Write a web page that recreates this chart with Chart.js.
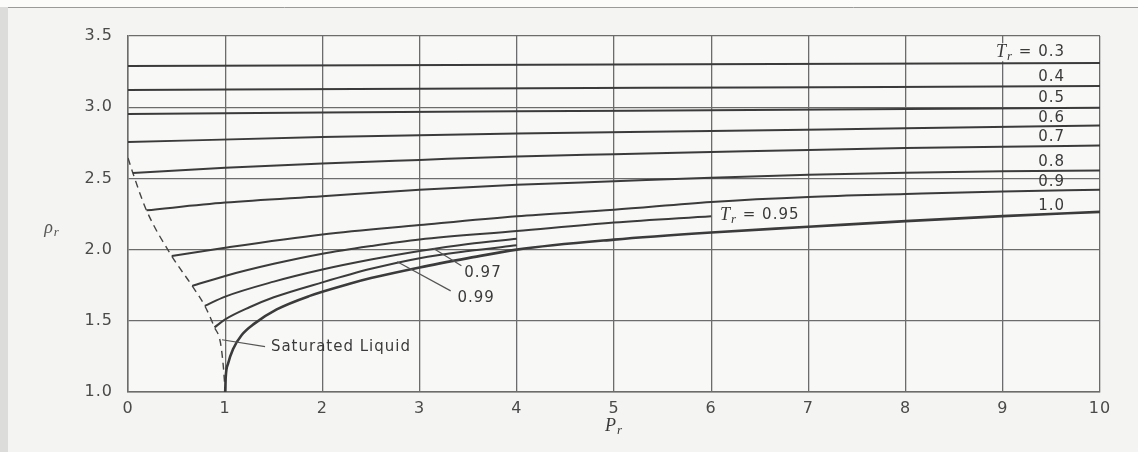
<!DOCTYPE html>
<html>
<head>
<meta charset="utf-8">
<script src="https://cdn.jsdelivr.net/npm/chart.js@4/dist/chart.umd.min.js"></script>
<style>
  html, body { margin: 0; padding: 0; background: #f4f4f2; }
  canvas { display: block; }
</style>
</head>
<body>
<canvas id="myChart" width="1138" height="452"></canvas>
<script>
// reduced pressure (Pr) / reduced density (rho_r) per isotherm
const tr03Pr = [0, 5, 10];
const tr03Rho = [3.29, 3.30, 3.31];
const tr04Pr = [0, 3, 6.4, 10];
const tr04Rho = [3.12, 3.13, 3.139, 3.148];
const tr05Pr = [0, 2, 4, 6.4, 10];
const tr05Rho = [2.952, 2.963, 2.972, 2.98, 2.997];
const tr06Pr = [0, 2, 4, 6, 8, 10];
const tr06Rho = [2.755, 2.79, 2.815, 2.832, 2.852, 2.871];
const tr07Pr = [0.05, 1, 2, 3, 4, 5, 6, 7, 8, 9, 10];
const tr07Rho = [2.538, 2.575, 2.605, 2.63, 2.654, 2.67, 2.685, 2.70, 2.713, 2.723, 2.731];
const tr08Pr = [0.19, 1, 2, 3, 4, 5, 6, 7, 8, 9, 10];
const tr08Rho = [2.276, 2.33, 2.375, 2.42, 2.455, 2.48, 2.505, 2.525, 2.54, 2.55, 2.556];
const tr09Pr = [0.45, 1, 2, 3, 4, 5, 6, 7, 8, 9, 10];
const tr09Rho = [1.955, 2.013, 2.106, 2.172, 2.234, 2.28, 2.335, 2.37, 2.39, 2.408, 2.42];
const tr095Pr = [0.66, 1, 1.5, 2, 2.5, 3, 4, 5, 6];
const tr095Rho = [1.745, 1.815, 1.90, 1.971, 2.025, 2.071, 2.13, 2.19, 2.235];
const tr097Pr = [0.79, 1, 1.5, 2, 2.5, 3, 3.5, 4];
const tr097Rho = [1.605, 1.67, 1.775, 1.86, 1.93, 1.99, 2.04, 2.076];
const tr099Pr = [0.89, 1, 1.25, 1.5, 2, 2.5, 3, 3.5, 4];
const tr099Rho = [1.454, 1.51, 1.595, 1.665, 1.77, 1.865, 1.94, 1.99, 2.03];
const tr10Pr = [1, 1.005, 1.03, 1.08, 1.17, 1.3, 1.53, 1.87, 2.28, 2.5, 3, 3.5, 4, 5, 6, 7, 8, 9, 10];
const tr10Rho = [1.0, 1.1, 1.2, 1.3, 1.4, 1.48, 1.58, 1.675, 1.76, 1.80, 1.875, 1.94, 2.0, 2.07, 2.12, 2.16, 2.2, 2.235, 2.265];
const satPr = [0, 0.05, 0.19, 0.45, 0.66, 0.79, 0.89, 0.95, 0.98, 1.0];
const satRho = [2.643, 2.538, 2.276, 1.955, 1.745, 1.605, 1.454, 1.35, 1.185, 1.0];

const xTicks = [0, 1, 2, 3, 4, 5, 6, 7, 8, 9, 10];
const yTicks = [1.0, 1.5, 2.0, 2.5, 3.0, 3.5];

// right side isotherm labels: text, and rho where they sit
const rightLabels = ['0.3', '0.4', '0.5', '0.6', '0.7', '0.8', '0.9', '1.0'];
const rightLabelRho = [3.386, 3.21, 3.064, 2.924, 2.79, 2.615, 2.475, 2.307];

const pts = (xs, ys) => xs.map((x, i) => ({ x: x, y: ys[i] }));
const ink = '#3b3b3b';
const sans = '"DejaVu Sans"';

const isoLine = (label, xs, ys, w) => ({
    label: label,
    data: pts(xs, ys),
    borderColor: ink,
    borderWidth: w || 2,
    pointRadius: 0,
    fill: false,
    cubicInterpolationMode: 'monotone',
});

const data = {
    datasets: [
        isoLine('0.3', tr03Pr, tr03Rho),
        isoLine('0.4', tr04Pr, tr04Rho),
        isoLine('0.5', tr05Pr, tr05Rho),
        isoLine('0.6', tr06Pr, tr06Rho),
        isoLine('0.7', tr07Pr, tr07Rho),
        isoLine('0.8', tr08Pr, tr08Rho),
        isoLine('0.9', tr09Pr, tr09Rho),
        isoLine('0.95', tr095Pr, tr095Rho),
        isoLine('0.97', tr097Pr, tr097Rho),
        isoLine('0.99', tr099Pr, tr099Rho),
        isoLine('1.0', tr10Pr, tr10Rho, 2.6),
        {
            label: 'Saturated Liquid',
            data: pts(satPr, satRho),
            borderColor: '#444',
            borderWidth: 1.4,
            borderDash: [7, 5],
            pointRadius: 0,
            fill: false,
            cubicInterpolationMode: 'monotone',
        },
    ],
};

// draws T_r / rho_r / P_r style text with an italic subscript
function subText(ctx, x, y, main, sub, rest, size, align) {
    const mainFont = 'italic ' + size + 'px "Liberation Serif"';
    const subFont = 'italic ' + Math.round(size * 0.7) + 'px "Liberation Serif"';
    const restFont = '15px ' + sans;
    ctx.font = mainFont; const w1 = ctx.measureText(main).width;
    ctx.font = subFont; const w2 = ctx.measureText(sub).width;
    ctx.font = restFont; const w3 = rest ? ctx.measureText(rest).width : 0;
    let left = x;
    if (align === 'right') left = x - (w1 + w2 + w3);
    if (align === 'center') left = x - (w1 + w2 + w3) / 2;
    ctx.textAlign = 'left';
    ctx.textBaseline = 'middle';
    ctx.font = mainFont; ctx.fillText(main, left, y);
    ctx.font = subFont; ctx.fillText(sub, left + w1, y + size * 0.25);
    if (rest) { ctx.font = restFont; ctx.fillText(rest, left + w1 + w2, y); }
    return { left: left, width: w1 + w2 + w3 };
}

const labelsPlugin = {
    id: 'labels',
    beforeDraw(chart) {
        const ctx = chart.ctx;
        ctx.save();
        ctx.fillStyle = '#f4f4f2';
        ctx.fillRect(0, 0, chart.width, chart.height);
        ctx.fillStyle = '#fbfbfa';
        ctx.fillRect(0, 0, chart.width, 7);
        ctx.strokeStyle = '#9a9a9a';
        ctx.lineWidth = 1;
        ctx.beginPath(); ctx.moveTo(0, 7.5); ctx.lineTo(chart.width, 7.5); ctx.stroke();
        ctx.fillStyle = '#dcdcda';
        ctx.fillRect(0, 7, 8, chart.height);
        const a = chart.chartArea;
        ctx.fillStyle = '#f8f8f7';
        ctx.fillRect(a.left, a.top, a.right - a.left, a.bottom - a.top);
        ctx.restore();
        ctx.letterSpacing = '1px';
    },
    afterDatasetsDraw(chart) {
        const ctx = chart.ctx;
        const sx = chart.scales.x, sy = chart.scales.y;
        const X = v => sx.getPixelForValue(v), Y = v => sy.getPixelForValue(v);
        ctx.save();
        ctx.fillStyle = '#3a3a3a';
        ctx.strokeStyle = '#555';

        // right side labels
        rightLabels.forEach((t, i) => {
            const y = Y(rightLabelRho[i]);
            if (i === 0) {
                const r = subText(ctx, X(9.64), y, 'T', 'r', ' = ' + t, 18, 'right');
                ctx.fillStyle = '#f8f8f7';
                ctx.fillRect(r.left - 2, y - 9, r.width + 4, 18);
                ctx.fillStyle = '#3a3a3a';
                subText(ctx, X(9.64), y, 'T', 'r', ' = ' + t, 18, 'right');
            } else {
                ctx.font = '15px ' + sans;
                ctx.textAlign = 'right';
                ctx.textBaseline = 'middle';
                ctx.fillText(t, X(9.64), y);
            }
        });

        // Tr = 0.95 at the end of its line
        subText(ctx, X(6.09), Y(2.244), 'T', 'r', ' = 0.95', 18, 'left');

        // leaders and small labels
        ctx.lineWidth = 1.2;
        const leader = (x1, y1, x2, y2) => {
            ctx.beginPath(); ctx.moveTo(X(x1), Y(y1)); ctx.lineTo(X(x2), Y(y2)); ctx.stroke();
        };
        leader(3.14, 2.01, 3.43, 1.887);
        leader(2.77, 1.914, 3.32, 1.71);
        leader(1.41, 1.318, 0.967, 1.367);
        ctx.font = '15px ' + sans;
        ctx.textAlign = 'left';
        ctx.textBaseline = 'middle';
        ctx.fillText('0.97', X(3.46), Y(1.837));
        ctx.fillText('0.99', X(3.39), Y(1.662));
        ctx.fillText('Saturated Liquid', X(1.47), Y(1.318));

        // axis titles
        ctx.fillStyle = '#555';
        subText(ctx, 52, Y(2.15), 'ρ', 'r', '', 18, 'center');
        ctx.fillStyle = '#3a3a3a';
        subText(ctx, X(5), 426, 'P', 'r', '', 18, 'center');
        ctx.restore();
    },
};

let chart = new Chart(document.querySelector('#myChart'), {
    type: 'line',
    data: data,
    plugins: [labelsPlugin],
    options: {
        responsive: false,
        animation: false,
        devicePixelRatio: 1,
        layout: { padding: { top: 36, right: 38, left: 0, bottom: 0 } },
        plugins: { legend: { display: false }, tooltip: { enabled: false } },
        scales: {
            x: {
                type: 'linear',
                min: 0,
                max: 10,
                afterFit: s => { s.height = 60; },
                afterBuildTicks: s => { s.ticks = xTicks.map(v => ({ value: v })); },
                grid: { color: '#6c6c6c', lineWidth: 1.3, drawTicks: false },
                border: { color: '#6c6c6c', width: 1.5 },
                ticks: {
                    color: '#4a4a4a',
                    padding: 7,
                    font: { family: sans, size: 16 },
                    callback: v => String(v),
                },
            },
            y: {
                min: 1,
                max: 3.5,
                afterFit: s => { s.width = 128; },
                afterBuildTicks: s => { s.ticks = yTicks.map(v => ({ value: v })); },
                grid: { color: '#6c6c6c', lineWidth: 1.3, drawTicks: false },
                border: { color: '#6c6c6c', width: 1.5 },
                ticks: {
                    color: '#4a4a4a',
                    padding: 15,
                    font: { family: sans, size: 16 },
                    callback: v => v.toFixed(1),
                },
            },
        },
    },
});
</script>
</body>
</html>
